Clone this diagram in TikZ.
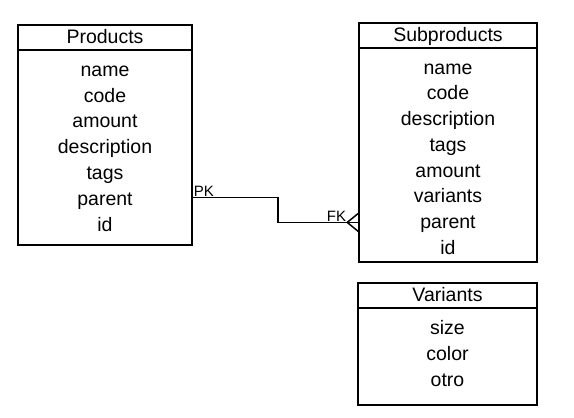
\documentclass[tikz,border=0pt]{standalone}
\usepackage{fontspec}
\setmainfont{Liberation Sans}
\begin{document}
\begin{tikzpicture}[x=1pt, y=-1pt,
    tbl/.style={draw, line width=1.5pt, inner sep=0pt},
    field/.style={font=\fontsize{19.5}{23}\selectfont, text height=14pt, text depth=4pt, inner sep=0pt},
    link/.style={line width=1.5pt},
    lbl/.style={font=\fontsize{15}{17}\selectfont, inner sep=1pt}]
    \useasboundingbox (0,0) rectangle (574,418);

    % Tables
    \node[tbl, minimum width=174pt, minimum height=220pt] (prod) at (105,135) {};
    \node[tbl, minimum width=178pt, minimum height=239pt] (sub) at (448,142.5) {};
    \node[tbl, minimum width=179pt, minimum height=122pt] (var) at (447.5,344) {};

    % Headers
    \draw[link] (prod.west |- 0,50) -- (prod.east |- 0,50);
    \draw[link] (sub.west |- 0,48) -- (sub.east |- 0,48);
    \draw[link] (var.west |- 0,308) -- (var.east |- 0,308);
    \node[field] (prod-title) at (105,38.5) {Products};
    \node[field] (sub-title) at (448,36.5) {Subproducts};
    \node[field] (var-title) at (447.5,296.5) {Variants};

    % Fields
    \foreach \f [count=\i] in {name,code,amount,description,tags,parent,id}
        \node[field] (prod-\f) at (105,45.5+25.8*\i) {\f};
    \foreach \f [count=\i] in {name,code,description,tags,amount,variants,parent,id}
        \node[field] (sub-\f) at (448,43.5+25.7*\i) {\f};
    \foreach \f [count=\i] in {size,color,otro}
        \node[field] (var-\f) at (447.5,303+26*\i) {\f};

    % Relation
    \coordinate (pk-end) at ([yshift=3pt]prod-parent -| prod.east);
    \coordinate (fk-end) at ([yshift=1pt]sub-parent -| sub.west);
    \draw[link] (pk-end) -- ++(85,0) |- (fk-end);
    \draw[link] (fk-end) ++(0,-9) -- ++(-11,9) -- ++(11,9);
    \node[lbl, anchor=south west] (pk) at (pk-end) {PK};
    \node[lbl, anchor=south east] (fk) at ([xshift=-11pt]fk-end) {FK};
\end{tikzpicture}
\end{document}
